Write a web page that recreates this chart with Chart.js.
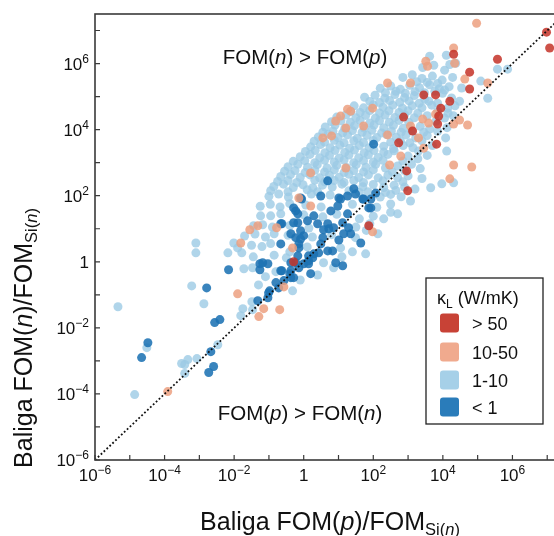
<!DOCTYPE html>
<html lang="en">
<head>
<meta charset="UTF-8">
<title>Baliga FOM n vs p</title>
<script src="https://cdn.jsdelivr.net/npm/chart.js"></script>
<style>
  body { margin: 0; overflow: hidden; background: #fff; }
</style>
</head>
<body>
<canvas id="fomChart" width="600" height="536"></canvas>
<script>
// every point is [log10 FOM(p)/FOM_Si(n), log10 FOM(n)/FOM_Si(n)]
const kappaOver50 = [
  [3.45,5.05],[3.79,5.05],[4.31,6.28],[4.77,5.74],[4.77,5.23],[5.57,6.13],[6.98,6.95],[7.07,6.47],
  [3.88,4.41],[3.85,4.17],[3.82,3.56],[2.73,3.60],[3.13,3.96],[2.96,2.75],[2.99,2.15],[4.20,4.86],
  [3.94,4.65],[1.87,1.09],[-0.29,0.00],[2.87,4.38]
];

const kappa10to50 = [
  [-3.91,-3.93],[-1.90,-0.97],[-1.29,-1.66],[-1.15,-1.42],[-0.69,-1.45],[-1.81,0.57],[-1.32,1.09],
  [-0.78,1.03],[-1.55,0.97],[-0.32,0.42],[-0.57,-0.76],[0.20,1.69],[1.98,0.91],[4.97,7.22],[4.31,6.47],
  [4.34,6.01],[3.51,6.07],[3.56,5.92],[2.41,5.41],[1.98,4.65],[1.35,4.56],[1.06,4.41],[0.92,4.26],
  [0.55,3.75],[0.80,3.81],[1.26,4.62],[2.41,3.84],[2.47,2.93],[3.30,3.75],[3.45,3.44],[3.07,4.11],
  [4.31,4.17],[4.48,4.29],[4.71,4.14],[4.63,5.53],[5.29,5.41],[4.31,2.93],[4.83,2.87],[4.20,2.51],
  [0.20,2.69],[-0.14,1.93],[1.21,4.05],[1.72,4.11],[3.42,4.32],[3.79,4.47],[2.79,3.20],[1.21,2.84],
  [3.59,4.20],[3.07,5.41]
];

const kappa1to10 = [
  // sparse points, lower left
  [-5.34,-1.36],[-4.86,-4.02],[-4.51,-2.60],[-3.10,0.57],[-3.10,0.27],[-3.22,-0.73],[-2.87,-1.27],
  [-3.51,-3.08],[-3.42,-3.11],[-3.33,-2.96],[-3.07,-2.93],[-3.42,-3.38],[-2.47,-2.51],[-2.18,0.27],
  [-2.01,0.57],[-1.90,0.42],[-1.78,0.27],[-1.72,-0.21],[-1.47,-0.18],[-1.75,-1.42],[-1.47,-1.45],
  [-1.81,-1.63],[-1.49,-1.21],[-0.32,-0.88],[-1.30,-0.70],
  // near the diagonal
  [4.11,3.35],[4.08,3.75],[4.31,2.39],[3.97,2.36],[3.65,2.24],[5.57,5.83],[5.86,5.83],[5.09,5.47],
  [5.29,4.95],[4.37,6.01],[3.07,1.84],[2.70,1.45],[2.50,1.75],[2.13,0.85],[1.78,0.24],[1.49,0.73],
  [1.06,0.42],[0.86,-0.18],[0.57,-0.03],
  // main cloud
  [3.62,6.22],[4.10,6.25],
  [3.42,5.88],[3.74,5.95],[4.05,5.80],[4.20,5.97],
  [2.85,5.58],[3.12,5.66],[3.40,5.55],[3.70,5.62],[3.98,5.50],[4.28,5.58],
  [3.25,5.45],[3.55,5.43],[3.85,5.40],
  [2.20,5.25],[2.50,5.32],[2.78,5.22],[3.05,5.34],[3.33,5.27],[3.62,5.36],[3.90,5.24],[4.18,5.30],[4.54,5.26],
  [2.35,5.12],[2.65,5.16],[2.92,5.10],[3.20,5.15],[3.47,5.12],[3.77,5.16],[4.05,5.20],
  [1.75,4.98],[2.05,5.04],[2.33,4.95],[2.62,5.06],[2.90,4.97],[3.18,5.03],[3.48,4.92],[3.99,5.10],[4.25,4.96],[4.48,4.86],
  [1.90,4.85],[2.18,4.82],[2.47,4.88],[2.76,4.83],[3.03,4.87],[3.32,4.80],[3.60,4.86],[3.85,4.80],
  [1.45,4.72],[1.72,4.66],[2.00,4.75],[2.28,4.68],[2.56,4.74],[2.84,4.65],[3.12,4.72],[3.40,4.66],[3.68,4.74],[4.14,4.65],[4.35,4.72],
  [1.35,4.55],[1.62,4.52],[1.90,4.58],[2.18,4.50],[2.45,4.57],[2.74,4.52],[3.00,4.57],[3.28,4.50],[3.85,4.55],[4.15,4.50],
  [0.95,4.38],[1.22,4.45],[1.50,4.36],[1.78,4.43],[2.06,4.35],[2.34,4.44],[2.62,4.37],[2.90,4.45],[3.18,4.36],[3.55,4.42],[4.05,4.35],[4.30,4.42],
  [0.80,4.24],[1.07,4.27],[1.34,4.22],[1.62,4.28],[1.90,4.20],[2.18,4.27],[2.46,4.22],[2.74,4.28],[3.02,4.22],[3.80,4.25],
  [0.62,4.08],[0.90,4.14],[1.18,4.04],[1.46,4.12],[1.74,4.05],[2.02,4.14],[2.30,4.06],[2.58,4.13],[2.86,4.04],[3.35,4.10],[3.62,4.02],[4.12,4.06],
  [0.55,3.92],[0.84,3.96],[1.12,3.90],[1.40,3.97],[1.68,3.92],[1.96,3.98],[2.24,3.90],[2.52,3.96],[2.80,3.92],[3.10,3.97],[3.45,3.92],[3.85,3.95],
  [0.42,3.78],[0.70,3.86],[0.98,3.76],[1.26,3.84],[1.54,3.74],[1.82,3.83],[2.10,3.76],[2.38,3.85],[2.66,3.77],[2.94,3.84],[3.22,3.75],[3.55,3.82],
  [0.30,3.65],[0.60,3.62],[0.88,3.68],[1.16,3.60],[1.44,3.66],[1.72,3.61],[2.00,3.67],[2.50,3.62],[2.78,3.66],[3.05,3.60],[3.40,3.66],
  [0.20,3.48],[0.48,3.55],[0.76,3.45],[1.04,3.53],[1.32,3.44],[1.60,3.52],[1.88,3.45],[2.30,3.50],[2.58,3.42],[2.86,3.52],[3.14,3.45],[3.70,3.52],
  [0.05,3.34],[0.33,3.37],[0.61,3.30],[0.90,3.37],[1.18,3.31],[1.46,3.38],[1.74,3.30],[2.02,3.37],[2.30,3.32],[2.60,3.36],[3.30,3.35],
  [-0.10,3.18],[0.18,3.25],[0.46,3.15],[0.74,3.22],[1.02,3.14],[1.30,3.23],[1.58,3.15],[1.86,3.24],[2.14,3.16],[2.42,3.25],[3.00,3.20],[3.28,3.12],[3.55,3.22],
  [-0.30,3.04],[0.03,3.06],[0.32,3.00],[0.60,3.07],[0.88,3.02],[1.16,3.08],[1.44,3.00],[1.72,3.06],[2.00,3.02],[2.28,3.07],[2.85,3.05],
  [-0.45,2.88],[-0.17,2.95],[0.11,2.86],[0.39,2.94],[0.67,2.84],[0.95,2.92],[1.23,2.85],[1.51,2.94],[1.79,2.86],[2.07,2.95],[2.35,2.84],[2.70,2.90],[3.10,2.95],[3.35,2.82],
  [-0.55,2.74],[-0.25,2.76],[0.04,2.70],[0.32,2.77],[0.60,2.72],[0.88,2.78],[1.16,2.70],[1.44,2.76],[1.72,2.72],[2.00,2.78],[2.55,2.72],[2.90,2.76],
  [-0.66,2.58],[-0.38,2.64],[-0.10,2.55],[0.18,2.63],[0.46,2.54],[0.74,2.62],[1.02,2.56],[1.30,2.65],[1.58,2.55],[1.86,2.63],[2.14,2.54],[2.42,2.62],[2.70,2.55],[3.00,2.60],[3.40,2.52],
  [-0.75,2.43],[-0.45,2.46],[-0.20,2.40],[0.32,2.47],[0.60,2.42],[0.88,2.46],[1.16,2.40],[1.44,2.46],[1.72,2.40],[2.28,2.45],[2.85,2.42],
  [-0.86,2.28],[-0.58,2.35],[-0.30,2.25],[-0.02,2.33],[0.26,2.24],[0.54,2.32],[0.82,2.26],[1.10,2.35],[1.70,2.27],[2.00,2.34],[2.30,2.25],[2.60,2.32],[2.90,2.26],[3.20,2.20],
  [-0.95,2.15],[-0.45,2.12],[0.10,2.18],[0.40,2.12],[1.30,2.15],[1.85,2.12],[2.35,2.10],[2.65,2.16],
  [-1.00,1.98],[-0.72,2.05],[-0.44,1.96],[0.22,2.05],[0.76,2.02],[1.60,2.10],[2.20,1.96],[2.50,2.04],[2.80,1.97],
  [-1.25,1.68],[-0.96,1.74],[-0.68,1.66],[-0.40,1.76],[0.06,1.72],[0.50,1.66],[1.40,1.74],[2.10,1.65],[2.50,1.50],
  [-1.24,1.39],[-0.95,1.39],[-0.66,1.45],[0.00,1.42],[0.55,1.36],[0.95,1.44],[1.60,1.30],[2.00,1.38],[2.30,1.30],
  [-1.44,1.09],[-1.18,1.12],[-0.90,1.05],[-0.40,1.10],[0.15,1.02],[1.50,1.05],[1.90,1.15],
  [-1.70,0.78],[-1.40,0.84],[-1.10,0.75],[-0.85,0.85],[-0.45,0.80],[0.25,0.75],[0.80,0.82],[1.80,0.95],
  [-1.50,0.50],[-1.20,0.46],[-0.95,0.55],[-0.40,0.30],[0.10,0.45],[1.40,0.30],
  [-1.45,0.15],[-0.85,0.20],[-0.50,0.12],[1.10,0.15],
  [-1.10,-0.45],[-0.80,-0.30],[-0.10,-0.55],[0.40,-0.40]
];

const kappaUnder1 = [
  [-4.66,-2.90],[-4.48,-2.45],[-2.79,-0.79],[-2.56,-1.84],[-2.41,-1.75],[-2.67,-2.72],[-2.59,-3.17],
  [-2.73,-3.35],[-2.16,-0.24],[-1.26,-0.06],[-1.26,-0.24],[-1.03,-0.06],[-1.01,-0.94],[-1.03,-1.09],
  [-1.32,-1.18],[-0.66,-0.27],[-0.37,-0.48],[-1.18,-0.03],[-0.66,0.54],[-0.63,-0.27],[-0.37,-0.03],
  [-0.40,-0.36],[-0.57,-0.57],[-0.72,-0.79],[-0.80,-0.63],[-0.98,-0.88],[-0.66,1.15],[-0.17,1.18],
  [-0.23,-0.03],[-0.17,0.18],[-0.29,-0.48],
  [-0.09,1.93],[0.49,1.99],[1.01,1.93],[1.26,1.99],[1.49,2.05],[1.70,1.90],[1.93,1.90],[1.93,1.63],
  [1.26,1.45],[1.12,1.18],[0.86,1.03],[0.72,1.00],[0.69,1.15],[0.57,0.97],[0.40,1.15],[0.29,1.39],
  [0.11,1.24],[-0.17,1.45],[-0.29,1.18],[-0.09,0.94],[0.00,0.79],[-0.23,0.73],[-0.14,0.54],[0.55,0.73],
  [0.49,0.54],[0.43,0.27],[0.26,0.12],[0.14,0.03],[0.00,-0.06],[-0.14,-0.18],[-0.37,-0.27],[0.69,0.33],
  [0.92,-0.03],[1.12,-0.12],[0.83,0.33],[1.01,0.66],[1.15,0.85],[1.35,0.85],[1.29,1.03],[1.64,0.57],
  [0.20,-0.36],[0.14,-0.06],[0.29,0.24],[1.87,1.63],
  [2.01,3.56],[1.44,2.21],[1.72,1.90],[2.07,2.08],[1.06,1.90],[0.69,2.45],[-0.06,1.90],[-0.29,1.63],
  [0.98,1.69],[0.78,1.54],[-0.63,1.15],[-0.37,0.85],[-0.09,0.69],[-0.14,0.42],[0.14,0.18],[-0.23,1.54]
];

// axis decades
const labelledDecades = [-6, -4, -2, 0, 2, 4, 6];
const allDecadesX = [-6, -5, -4, -3, -2, -1, 0, 1, 2, 3, 4, 5, 6, 7];
const allDecadesY = [-6, -5, -4, -3, -2, -1, 0, 1, 2, 3, 4, 5, 6, 7];

const legendLabels = ['> 50', '10-50', '1-10', '< 1'];
const legendColors = ['rgb(200,66,54)', 'rgb(240,170,142)', 'rgb(166,208,232)', 'rgb(42,124,186)'];

const toPoints = arr => arr.map(([lx, ly]) => ({ x: Math.pow(10, lx), y: Math.pow(10, ly) }));

const FONT = '"Liberation Sans", Arial, Helvetica, sans-serif';

// draws a list of [text, size, italic, dy] pieces next to each other
function richText(ctx, segs, x, y, align) {
  let total = 0;
  const widths = segs.map(s => {
    ctx.font = (s[2] ? 'italic ' : '') + s[1] + 'px ' + FONT;
    const w = ctx.measureText(s[0]).width;
    total += w;
    return w;
  });
  let cx = align === 'center' ? x - total / 2 : (align === 'right' ? x - total : x);
  segs.forEach((s, i) => {
    ctx.font = (s[2] ? 'italic ' : '') + s[1] + 'px ' + FONT;
    ctx.fillText(s[0], cx, y + (s[3] || 0));
    cx += widths[i];
  });
}

function powSegs(e) {
  if (e === 0) return [['1', 17]];
  return [['10', 17], [(e < 0 ? '\u2212' : '') + Math.abs(e), 12, false, -7]];
}

const decorations = {
  id: 'decorations',
  afterDatasetsDraw(chart) {
    const { ctx, chartArea: a, scales } = chart;
    const xs = scales.x, ys = scales.y;
    ctx.save();
    ctx.fillStyle = '#111';
    ctx.textBaseline = 'alphabetic';

    // frame
    ctx.strokeStyle = '#3a3a3a';
    ctx.lineWidth = 1.6;
    ctx.strokeRect(a.left, a.top, a.right - a.left, a.bottom - a.top);

    // inward ticks
    ctx.lineWidth = 1.2;
    ctx.beginPath();
    allDecadesX.forEach(e => {
      const px = xs.getPixelForValue(Math.pow(10, e));
      ctx.moveTo(px, a.bottom); ctx.lineTo(px, a.bottom - 5);
    });
    allDecadesY.forEach(e => {
      const py = ys.getPixelForValue(Math.pow(10, e));
      ctx.moveTo(a.left, py); ctx.lineTo(a.left + 5, py);
    });
    ctx.stroke();

    // tick labels
    labelledDecades.forEach(e => {
      const px = xs.getPixelForValue(Math.pow(10, e));
      richText(ctx, powSegs(e), px, a.bottom + 21, 'center');
      const py = ys.getPixelForValue(Math.pow(10, e));
      richText(ctx, powSegs(e), a.left - 6, py + 6, 'right');
    });

    // axis titles
    richText(ctx, [['Baliga FOM(', 25], ['p', 25, true], [')/FOM', 25],
      ['Si(', 16.5, false, 5], ['n', 16.5, true, 5], [')', 16.5, false, 5]], 330, 530, 'center');
    ctx.save();
    ctx.translate(32, 338);
    ctx.rotate(-Math.PI / 2);
    richText(ctx, [['Baliga FOM(', 25], ['n', 25, true], [')/FOM', 25],
      ['Si(', 16.5, false, 5], ['n', 16.5, true, 5], [')', 16.5, false, 5]], 0, 0, 'center');
    ctx.restore();

    // region notes
    richText(ctx, [['FOM(', 20.5], ['n', 20.5, true], [') > FOM(', 20.5], ['p', 20.5, true], [')', 20.5]], 305, 64, 'center');
    richText(ctx, [['FOM(', 20.5], ['p', 20.5, true], [') > FOM(', 20.5], ['n', 20.5, true], [')', 20.5]], 300, 420, 'center');

    // legend box
    ctx.fillStyle = '#fff';
    ctx.fillRect(426, 278, 117, 146);
    ctx.strokeStyle = '#222';
    ctx.lineWidth = 1.3;
    ctx.strokeRect(426, 278, 117, 146);
    ctx.fillStyle = '#111';
    richText(ctx, [['\u03ba', 18], ['L', 12, false, 4], [' (W/mK)', 18]], 437, 304, 'left');
    const rows = [323, 352, 380, 407];
    legendLabels.forEach((lab, i) => {
      ctx.fillStyle = legendColors[i];
      ctx.beginPath();
      ctx.roundRect(440, rows[i] - 9.5, 19, 19, 3);
      ctx.fill();
      ctx.fillStyle = '#111';
      richText(ctx, [[lab, 18]], 472, rows[i] + 6.5, 'left');
    });
    ctx.restore();
  }
};

const ctx = document.getElementById('fomChart').getContext('2d');
new Chart(ctx, {
  type: 'scatter',
  data: {
    datasets: [
      {
        label: 'FOM(n) = FOM(p)',
        data: [{ x: 1e-6, y: 1e-6 }, { x: 1e8, y: 1e8 }],
        showLine: true,
        borderColor: '#111',
        borderWidth: 1.8,
        borderDash: [1.8, 2.2],
        pointRadius: 0,
        order: 0
      },
      { label: '> 50', data: toPoints(kappaOver50), backgroundColor: 'rgba(196,50,40,0.85)', order: 1 },
      { label: '10-50', data: toPoints(kappa10to50), backgroundColor: 'rgba(236,160,128,0.85)', order: 2 },
      { label: '< 1', data: toPoints(kappaUnder1), backgroundColor: 'rgba(30,115,180,0.88)', order: 3 },
      { label: '1-10', data: toPoints(kappa1to10), backgroundColor: 'rgba(156,202,229,0.8)', order: 4 }
    ]
  },
  options: {
    responsive: false,
    animation: false,
    layout: { padding: { left: 95, top: 14, right: 18, bottom: 76 } },
    elements: { point: { radius: 4.5, borderWidth: 0, hoverRadius: 4.5 } },
    plugins: { legend: { display: false }, tooltip: { enabled: false } },
    scales: {
      x: {
        type: 'logarithmic', min: 1e-6, max: 1e8,
        ticks: { display: false },
        grid: { display: false, drawTicks: false },
        border: { display: false }
      },
      y: {
        type: 'logarithmic', min: 1e-6, max: Math.pow(10, 7.5),
        ticks: { display: false },
        grid: { display: false, drawTicks: false },
        border: { display: false }
      }
    }
  },
  plugins: [decorations]
});
</script>
</body>
</html>
